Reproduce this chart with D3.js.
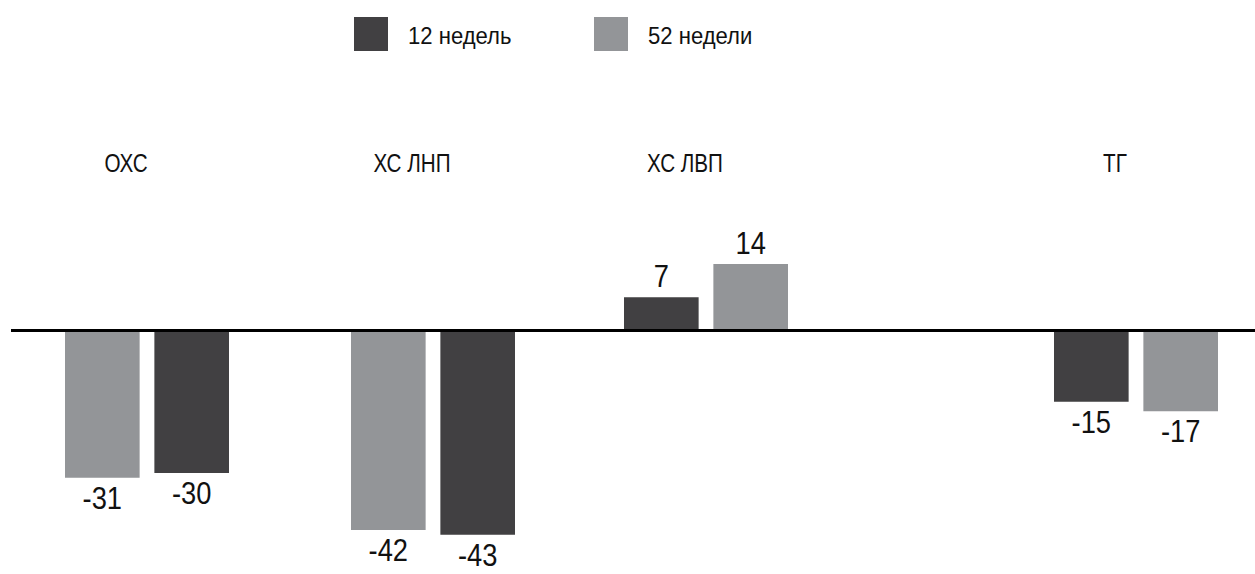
<!DOCTYPE html>
<html><head><meta charset="utf-8">
<script src="https://cdn.jsdelivr.net/npm/d3@7"></script>
<style>
body{margin:0;background:#fff}
svg{display:block}
text{font-family:"Liberation Sans",Arial,sans-serif;fill:#111}
</style>
</head><body>
<svg id="chart" width="1255" height="574"></svg>
<script>
// ---- data ----
const categories = ["ОХС", "ХС ЛНП", "ХС ЛВП", "ТГ"];
const values12 = [-30, -43, 7, -15];
const values52 = [-31, -42, 14, -17];
const seriesKeys = ["w12", "w52"];
const seriesNames = ["12 недель", "52 недели"];
// bar order within each category group (as in the original)
const barOrder = [["w52", "w12"], ["w52", "w12"], ["w12", "w52"], ["w12", "w52"]];

// ---- layout ----
const W = 1255, H = 574;
const zeroY = 330.5;
const colors = d3.scaleOrdinal().domain(seriesKeys).range(["#414042", "#939598"]);
const seriesVals = {w12: values12, w52: values52};

const svg = d3.select("#chart");

const groupX = d3.scaleOrdinal().domain(categories).range([65, 351, 624, 1054]);
const groupW = 164;
const inner = d3.scaleBand().domain([0, 1]).range([0, groupW]).paddingInner(0.165).paddingOuter(0);
const y = d3.scaleLinear().domain([0, -50]).range([zeroY, zeroY + 237.5]);

const bars = [];
categories.forEach((c, i) => {
  barOrder[i].forEach((k, j) => {
    bars.push({cat: c, key: k, slot: j, value: seriesVals[k][i]});
  });
});

svg.append("g").selectAll("rect").data(bars).join("rect")
  .attr("x", d => groupX(d.cat) + inner(d.slot))
  .attr("width", inner.bandwidth())
  .attr("y", d => Math.min(y(d.value), y(0)))
  .attr("height", d => Math.abs(y(d.value) - y(0)))
  .attr("fill", d => colors(d.key));

svg.append("line")
  .attr("x1", 11).attr("x2", W)
  .attr("y1", y(0)).attr("y2", y(0))
  .attr("stroke", "#000").attr("stroke-width", 3);

// value labels (condensed look via horizontal scaling)
svg.append("g").selectAll("text").data(bars).join("text")
  .attr("transform", d => {
    const x = groupX(d.cat) + inner(d.slot) + inner.bandwidth() / 2;
    const ty = d.value < 0 ? y(d.value) + 31 : y(d.value) - 10;
    return `translate(${x},${ty}) scale(0.88,1)`;
  })
  .attr("text-anchor", "middle")
  .attr("font-size", 31)
  .text(d => d.value);

// category labels
svg.append("g").selectAll("text").data(categories).join("text")
  .attr("transform", c => `translate(${groupX(c) + groupW / 2 - 21},172) scale(0.81,1)`)
  .attr("text-anchor", "middle")
  .attr("font-size", 25.5)
  .text(c => c);

// legend
const legX = d3.scaleOrdinal().domain(seriesKeys).range([354, 594]);
const leg = svg.append("g").selectAll("g").data(seriesKeys).join("g")
  .attr("transform", k => `translate(${legX(k)},17)`);
leg.append("rect").attr("width", 34).attr("height", 34).attr("fill", k => colors(k));
leg.append("text").attr("transform", "translate(54,26.5) scale(0.94,1)").attr("font-size", 23.5)
  .text((k, i) => seriesNames[i]);
</script>
</body></html>
